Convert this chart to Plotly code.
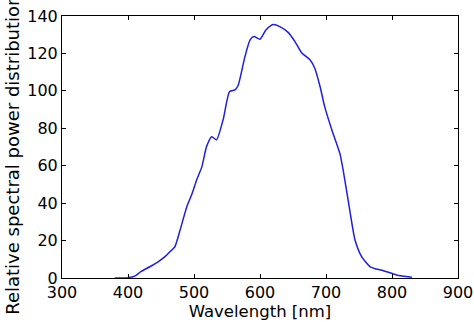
import plotly.graph_objects as go

# Spectral power distribution samples
wavelength_nm = [380, 400, 410, 420, 433, 445, 456, 465, 471, 479, 489, 497, 504, 512,
                 519, 527, 534, 544, 554, 562, 567, 577, 585, 591, 600, 609, 620, 630,
                 643, 653, 663, 676, 683, 691, 698, 709, 721, 726, 736, 744, 754, 767,
                 787, 807, 830]
relative_power = [0, 0.2, 1.0, 3.5, 6, 8.5, 11.4, 14.5, 16.7, 25.7, 38, 45, 52.4, 59.5,
                  70.2, 75.5, 73.8, 84.4, 99.6, 100.5, 103, 118, 127.2, 129, 127.6, 132.5,
                  135.4, 134.3, 131.1, 126.3, 120.4, 116.5, 112.1, 102.3, 91.6, 79, 66.6,
                  57.7, 36.3, 20.3, 11.4, 6, 3.9, 1.6, 0.4]

x_ticks = [300, 400, 500, 600, 700, 800, 900]
y_ticks = [0, 20, 40, 60, 80, 100, 120, 140]

fig = go.Figure(
    go.Scatter(
        x=wavelength_nm,
        y=relative_power,
        mode="lines",
        line=dict(color="#1f1fe0", width=1.5, shape="spline", smoothing=0.6),
    )
)

axis_common = dict(
    showline=True,
    linecolor="black",
    linewidth=1,
    mirror="ticks",
    ticks="inside",
    ticklen=4,
    tickcolor="black",
    showgrid=False,
    zeroline=False,
    automargin=False,
    tickfont=dict(family="DejaVu Sans", size=16, color="black"),
)

fig.update_xaxes(
    range=[300, 900],
    tickvals=x_ticks,
    title=dict(text="Wavelength [nm]", font=dict(family="DejaVu Sans", size=16.5, color="black"), standoff=4),
    **axis_common,
)
fig.update_yaxes(range=[0, 140], tickvals=y_ticks, **axis_common)

# Vertical axis label, placed as a rotated annotation left of the tick labels
fig.add_annotation(
    text="Relative spectral power distribution",
    xref="paper", yref="paper",
    x=-0.124, y=0.47,
    xanchor="center", yanchor="middle",
    textangle=-90,
    showarrow=False,
    font=dict(family="DejaVu Sans", size=18, color="black"),
)

fig.update_layout(
    width=474,
    height=322,
    margin=dict(l=62, r=16, t=16, b=44),
    plot_bgcolor="white",
    paper_bgcolor="white",
    showlegend=False,
)

fig.write_html("out.html")
